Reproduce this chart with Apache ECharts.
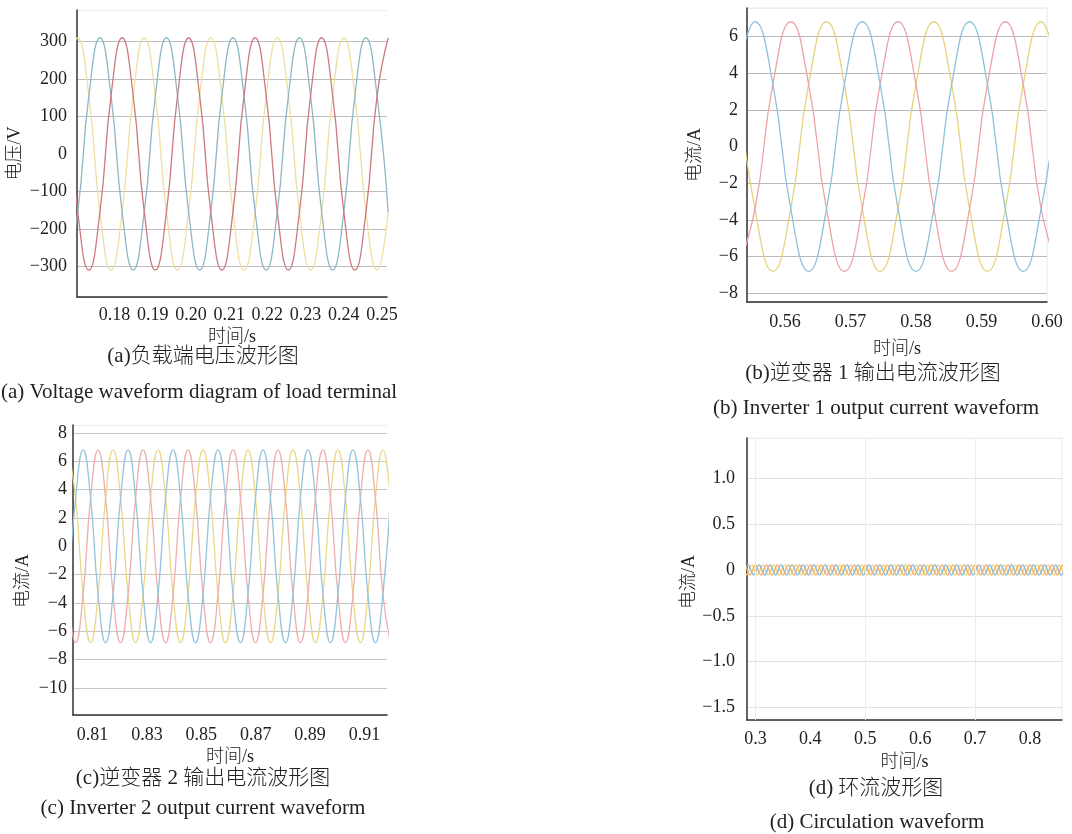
<!DOCTYPE html>
<html>
<head>
<meta charset="utf-8">
<title>waveforms</title>
<script src="https://cdn.jsdelivr.net/npm/echarts@6/dist/echarts.min.js"></script>
<style>
  html, body { margin: 0; padding: 0; background: #fff; }
  #chart { width: 1072px; height: 834px; }
</style>
</head>
<body>
<div id="chart"></div>
<script>
// ---- (a) load terminal voltage, V ----
const aTime = [0.1675, 0.1704, 0.1733, 0.1762, 0.1791, 0.1820, 0.1849, 0.1878, 0.1907, 0.1936,
  0.1965, 0.1994, 0.2023, 0.2052, 0.2081, 0.2110, 0.2139, 0.2168, 0.2197, 0.2226,
  0.2255, 0.2284, 0.2313, 0.2342, 0.2371, 0.2400, 0.2429, 0.2458, 0.2487, 0.2516];
const aRed = [155, -155, -310, -155, 155, 310, 155, -155, -310, -155, 155, 310,
  155, -155, -310, -155, 155, 310, 155, -155, -310, -155, 155, 310,
  155, -155, -310, -155, 155, 310];
const aBlue = [-310, -155, 155, 310, 155, -155, -310, -155, 155, 310, 155, -155,
  -310, -155, 155, 310, 155, -155, -310, -155, 155, 310, 155, -155,
  -310, -155, 155, 310, 155, -155];
const aYellow = [155, 310, 155, -155, -310, -155, 155, 310, 155, -155, -310, -155,
  155, 310, 155, -155, -310, -155, 155, 310, 155, -155, -310, -155,
  155, 310, 155, -155, -310, -155];
const aXTicks = [0.18, 0.19, 0.20, 0.21, 0.22, 0.23, 0.24, 0.25];
const aYTicks = [-300, -200, -100, 0, 100, 200, 300];

// ---- (b) inverter 1 output current, A ----
const bTime = [0.55269, 0.55542, 0.55815, 0.56088, 0.56361, 0.56634, 0.56907, 0.57180, 0.57453, 0.57726,
  0.57999, 0.58272, 0.58545, 0.58818, 0.59091, 0.59364, 0.59637, 0.59910, 0.60183];
const bBlue = [3.4, 6.8, 3.4, -3.4, -6.8, -3.4, 3.4, 6.8, 3.4, -3.4, -6.8, -3.4,
  3.4, 6.8, 3.4, -3.4, -6.8, -3.4, 3.4];
const bRed = [-6.8, -3.4, 3.4, 6.8, 3.4, -3.4, -6.8, -3.4, 3.4, 6.8, 3.4, -3.4,
  -6.8, -3.4, 3.4, 6.8, 3.4, -3.4, -6.8];
const bYellow = [3.4, -3.4, -6.8, -3.4, 3.4, 6.8, 3.4, -3.4, -6.8, -3.4, 3.4, 6.8,
  3.4, -3.4, -6.8, -3.4, 3.4, 6.8, 3.4];
const bXTicks = [0.56, 0.57, 0.58, 0.59, 0.60];
const bYTicks = [-8, -6, -4, -2, 0, 2, 4, 6];

// ---- (c) inverter 2 output current, A ----
const cTime = [0.80100, 0.80376, 0.80651, 0.80927, 0.81203, 0.81479, 0.81754, 0.82030, 0.82306, 0.82581,
  0.82857, 0.83133, 0.83408, 0.83684, 0.83960, 0.84236, 0.84511, 0.84787, 0.85063, 0.85338,
  0.85614, 0.85890, 0.86165, 0.86441, 0.86717, 0.86993, 0.87268, 0.87544, 0.87820, 0.88095,
  0.88371, 0.88647, 0.88922, 0.89198, 0.89474, 0.89750, 0.90025, 0.90301, 0.90577, 0.90852,
  0.91128, 0.91404, 0.91679, 0.91955];
const cBlue = [-3.4, 3.4, 6.8, 3.4, -3.4, -6.8, -3.4, 3.4, 6.8, 3.4, -3.4, -6.8,
  -3.4, 3.4, 6.8, 3.4, -3.4, -6.8, -3.4, 3.4, 6.8, 3.4, -3.4, -6.8,
  -3.4, 3.4, 6.8, 3.4, -3.4, -6.8, -3.4, 3.4, 6.8, 3.4, -3.4, -6.8,
  -3.4, 3.4, 6.8, 3.4, -3.4, -6.8, -3.4, 3.4];
const cRed = [-3.4, -6.8, -3.4, 3.4, 6.8, 3.4, -3.4, -6.8, -3.4, 3.4, 6.8, 3.4,
  -3.4, -6.8, -3.4, 3.4, 6.8, 3.4, -3.4, -6.8, -3.4, 3.4, 6.8, 3.4,
  -3.4, -6.8, -3.4, 3.4, 6.8, 3.4, -3.4, -6.8, -3.4, 3.4, 6.8, 3.4,
  -3.4, -6.8, -3.4, 3.4, 6.8, 3.4, -3.4, -6.8];
const cYellow = [6.8, 3.4, -3.4, -6.8, -3.4, 3.4, 6.8, 3.4, -3.4, -6.8, -3.4, 3.4,
  6.8, 3.4, -3.4, -6.8, -3.4, 3.4, 6.8, 3.4, -3.4, -6.8, -3.4, 3.4,
  6.8, 3.4, -3.4, -6.8, -3.4, 3.4, 6.8, 3.4, -3.4, -6.8, -3.4, 3.4,
  6.8, 3.4, -3.4, -6.8, -3.4, 3.4, 6.8, 3.4];
const cXTicks = [0.81, 0.83, 0.85, 0.87, 0.89, 0.91];
const cYTicks = [-10, -8, -6, -4, -2, 0, 2, 4, 6, 8];

// ---- (d) circulating current, A ----
const dTime = [
  0.2800, 0.2833, 0.2867, 0.2900, 0.2933, 0.2967, 0.3000, 0.3033, 0.3067, 0.3100, 0.3133, 0.3167,
  0.3200, 0.3233, 0.3267, 0.3300, 0.3333, 0.3367, 0.3400, 0.3433, 0.3467, 0.3500, 0.3533, 0.3567,
  0.3600, 0.3633, 0.3667, 0.3700, 0.3733, 0.3767, 0.3800, 0.3833, 0.3867, 0.3900, 0.3933, 0.3967,
  0.4000, 0.4033, 0.4067, 0.4100, 0.4133, 0.4167, 0.4200, 0.4233, 0.4267, 0.4300, 0.4333, 0.4367,
  0.4400, 0.4433, 0.4467, 0.4500, 0.4533, 0.4567, 0.4600, 0.4633, 0.4667, 0.4700, 0.4733, 0.4767,
  0.4800, 0.4833, 0.4867, 0.4900, 0.4933, 0.4967, 0.5000, 0.5033, 0.5067, 0.5100, 0.5133, 0.5167,
  0.5200, 0.5233, 0.5267, 0.5300, 0.5333, 0.5367, 0.5400, 0.5433, 0.5467, 0.5500, 0.5533, 0.5567,
  0.5600, 0.5633, 0.5667, 0.5700, 0.5733, 0.5767, 0.5800, 0.5833, 0.5867, 0.5900, 0.5933, 0.5967,
  0.6000, 0.6033, 0.6067, 0.6100, 0.6133, 0.6167, 0.6200, 0.6233, 0.6267, 0.6300, 0.6333, 0.6367,
  0.6400, 0.6433, 0.6467, 0.6500, 0.6533, 0.6567, 0.6600, 0.6633, 0.6667, 0.6700, 0.6733, 0.6767,
  0.6800, 0.6833, 0.6867, 0.6900, 0.6933, 0.6967, 0.7000, 0.7033, 0.7067, 0.7100, 0.7133, 0.7167,
  0.7200, 0.7233, 0.7267, 0.7300, 0.7333, 0.7367, 0.7400, 0.7433, 0.7467, 0.7500, 0.7533, 0.7567,
  0.7600, 0.7633, 0.7667, 0.7700, 0.7733, 0.7767, 0.7800, 0.7833, 0.7867, 0.7900, 0.7933, 0.7967,
  0.8000, 0.8033, 0.8067, 0.8100, 0.8133, 0.8167, 0.8200, 0.8233, 0.8267, 0.8300, 0.8333, 0.8367,
  0.8400, 0.8433, 0.8467, 0.8500, 0.8533, 0.8567, 0.8600];
const dOrange = [
  0.055, 0.028, -0.028, -0.055, -0.028, 0.028, 0.055, 0.028, -0.028, -0.055, -0.028, 0.028,
  0.055, 0.028, -0.028, -0.055, -0.028, 0.028, 0.055, 0.028, -0.028, -0.055, -0.028, 0.028,
  0.055, 0.028, -0.028, -0.055, -0.028, 0.028, 0.055, 0.028, -0.028, -0.055, -0.028, 0.028,
  0.055, 0.028, -0.028, -0.055, -0.028, 0.028, 0.055, 0.028, -0.028, -0.055, -0.028, 0.028,
  0.055, 0.028, -0.028, -0.055, -0.028, 0.028, 0.055, 0.028, -0.028, -0.055, -0.028, 0.028,
  0.055, 0.028, -0.028, -0.055, -0.028, 0.028, 0.055, 0.028, -0.028, -0.055, -0.028, 0.028,
  0.055, 0.028, -0.028, -0.055, -0.028, 0.028, 0.055, 0.028, -0.028, -0.055, -0.028, 0.028,
  0.055, 0.028, -0.028, -0.055, -0.028, 0.028, 0.055, 0.028, -0.028, -0.055, -0.028, 0.028,
  0.055, 0.028, -0.028, -0.055, -0.028, 0.028, 0.055, 0.028, -0.028, -0.055, -0.028, 0.028,
  0.055, 0.028, -0.028, -0.055, -0.028, 0.028, 0.055, 0.028, -0.028, -0.055, -0.028, 0.028,
  0.055, 0.028, -0.028, -0.055, -0.028, 0.028, 0.055, 0.028, -0.028, -0.055, -0.028, 0.028,
  0.055, 0.028, -0.028, -0.055, -0.028, 0.028, 0.055, 0.028, -0.028, -0.055, -0.028, 0.028,
  0.055, 0.028, -0.028, -0.055, -0.028, 0.028, 0.055, 0.028, -0.028, -0.055, -0.028, 0.028,
  0.055, 0.028, -0.028, -0.055, -0.028, 0.028, 0.055, 0.028, -0.028, -0.055, -0.028, 0.028,
  0.055, 0.028, -0.028, -0.055, -0.028, 0.028, 0.055];
const dBlue = [
  -0.028, 0.028, 0.055, 0.028, -0.028, -0.055, -0.028, 0.028, 0.055, 0.028, -0.028, -0.055,
  -0.028, 0.028, 0.055, 0.028, -0.028, -0.055, -0.028, 0.028, 0.055, 0.028, -0.028, -0.055,
  -0.028, 0.028, 0.055, 0.028, -0.028, -0.055, -0.028, 0.028, 0.055, 0.028, -0.028, -0.055,
  -0.028, 0.028, 0.055, 0.028, -0.028, -0.055, -0.028, 0.028, 0.055, 0.028, -0.028, -0.055,
  -0.028, 0.028, 0.055, 0.028, -0.028, -0.055, -0.028, 0.028, 0.055, 0.028, -0.028, -0.055,
  -0.028, 0.028, 0.055, 0.028, -0.028, -0.055, -0.028, 0.028, 0.055, 0.028, -0.028, -0.055,
  -0.028, 0.028, 0.055, 0.028, -0.028, -0.055, -0.028, 0.028, 0.055, 0.028, -0.028, -0.055,
  -0.028, 0.028, 0.055, 0.028, -0.028, -0.055, -0.028, 0.028, 0.055, 0.028, -0.028, -0.055,
  -0.028, 0.028, 0.055, 0.028, -0.028, -0.055, -0.028, 0.028, 0.055, 0.028, -0.028, -0.055,
  -0.028, 0.028, 0.055, 0.028, -0.028, -0.055, -0.028, 0.028, 0.055, 0.028, -0.028, -0.055,
  -0.028, 0.028, 0.055, 0.028, -0.028, -0.055, -0.028, 0.028, 0.055, 0.028, -0.028, -0.055,
  -0.028, 0.028, 0.055, 0.028, -0.028, -0.055, -0.028, 0.028, 0.055, 0.028, -0.028, -0.055,
  -0.028, 0.028, 0.055, 0.028, -0.028, -0.055, -0.028, 0.028, 0.055, 0.028, -0.028, -0.055,
  -0.028, 0.028, 0.055, 0.028, -0.028, -0.055, -0.028, 0.028, 0.055, 0.028, -0.028, -0.055,
  -0.028, 0.028, 0.055, 0.028, -0.028, -0.055, -0.028];
const dYellow = [
  -0.028, -0.055, -0.028, 0.028, 0.055, 0.028, -0.028, -0.055, -0.028, 0.028, 0.055, 0.028,
  -0.028, -0.055, -0.028, 0.028, 0.055, 0.028, -0.028, -0.055, -0.028, 0.028, 0.055, 0.028,
  -0.028, -0.055, -0.028, 0.028, 0.055, 0.028, -0.028, -0.055, -0.028, 0.028, 0.055, 0.028,
  -0.028, -0.055, -0.028, 0.028, 0.055, 0.028, -0.028, -0.055, -0.028, 0.028, 0.055, 0.028,
  -0.028, -0.055, -0.028, 0.028, 0.055, 0.028, -0.028, -0.055, -0.028, 0.028, 0.055, 0.028,
  -0.028, -0.055, -0.028, 0.028, 0.055, 0.028, -0.028, -0.055, -0.028, 0.028, 0.055, 0.028,
  -0.028, -0.055, -0.028, 0.028, 0.055, 0.028, -0.028, -0.055, -0.028, 0.028, 0.055, 0.028,
  -0.028, -0.055, -0.028, 0.028, 0.055, 0.028, -0.028, -0.055, -0.028, 0.028, 0.055, 0.028,
  -0.028, -0.055, -0.028, 0.028, 0.055, 0.028, -0.028, -0.055, -0.028, 0.028, 0.055, 0.028,
  -0.028, -0.055, -0.028, 0.028, 0.055, 0.028, -0.028, -0.055, -0.028, 0.028, 0.055, 0.028,
  -0.028, -0.055, -0.028, 0.028, 0.055, 0.028, -0.028, -0.055, -0.028, 0.028, 0.055, 0.028,
  -0.028, -0.055, -0.028, 0.028, 0.055, 0.028, -0.028, -0.055, -0.028, 0.028, 0.055, 0.028,
  -0.028, -0.055, -0.028, 0.028, 0.055, 0.028, -0.028, -0.055, -0.028, 0.028, 0.055, 0.028,
  -0.028, -0.055, -0.028, 0.028, 0.055, 0.028, -0.028, -0.055, -0.028, 0.028, 0.055, 0.028,
  -0.028, -0.055, -0.028, 0.028, 0.055, 0.028, -0.028];
const dXTicks = [0.3, 0.4, 0.5, 0.6, 0.7, 0.8];
const dYTicks = [-1.5, -1.0, -0.5, 0, 0.5, 1.0];
const dVLines = [0.3, 0.5, 0.7];

// ---- chart ----
const FONT = '"Liberation Serif", "Noto Sans CJK SC", serif';
const TXT = '#222';

function pairs(t, v) {
  return t.map((x, i) => [x, v[i]]);
}

// number label, with a real minus sign
function fmt(dec) {
  return (v) => (Math.abs(v) < 1e-9 ? '0' : v.toFixed(dec)).replace('-', '\u2212');
}

function xAxisOf(idx, min, max, ticks, dec, margin, gap) {
  return {
    type: 'value', gridIndex: idx, min: min, max: max,
    name: '时间/s', nameLocation: 'middle', nameGap: gap,
    nameTextStyle: { fontFamily: FONT, fontSize: 18, fontWeight: 300, color: TXT },
    axisLine: { show: true, onZero: false, lineStyle: { color: '#333', width: 1.5 } },
    axisTick: { show: false },
    splitLine: { show: false },
    axisLabel: { customValues: ticks, formatter: fmt(dec), margin: margin,
      fontFamily: FONT, fontSize: 18, color: TXT }
  };
}

// namePad shifts the rotated name along the axis (right padding moves it down)
function yAxisOf(idx, min, max, ticks, dec, split, lineColors, name, gap, margin, namePad) {
  return {
    type: 'value', gridIndex: idx, min: min, max: max, splitNumber: split,
    name: name, nameLocation: 'middle', nameGap: gap,
    nameTextStyle: { fontFamily: FONT, fontSize: 18, fontWeight: 300, color: TXT,
      padding: [0, namePad || 0, 0, 0] },
    axisLine: { show: true, onZero: false, lineStyle: { color: '#333', width: 1.5 } },
    axisTick: { show: false },
    splitLine: { show: true, lineStyle: { color: lineColors, width: 1 } },
    axisLabel: { customValues: ticks, formatter: fmt(dec), margin: margin,
      fontFamily: FONT, fontSize: 18, color: TXT }
  };
}

function wave(idx, t, v, color) {
  return {
    type: 'line', xAxisIndex: idx, yAxisIndex: idx,
    data: pairs(t, v), smooth: true, showSymbol: false, silent: true,
    lineStyle: { color: color, width: 1.3 }, itemStyle: { color: color }
  };
}

const T = 'rgba(0,0,0,0)';
const gA = '#bdbdbd', gB = '#b9b9b9', gC = '#c6c6c6', gD = '#e0e0e0', gTop = '#ececec';

const captions = [
  ['(a)负载端电压波形图', 203, 356],
  ['(a) Voltage waveform diagram of load terminal', 199, 392],
  ['(b)逆变器 1 输出电流波形图', 873, 373],
  ['(b) Inverter 1 output current waveform', 876, 408],
  ['(c)逆变器 2 输出电流波形图', 203, 778],
  ['(c) Inverter 2 output current waveform', 203, 808],
  ['(d) 环流波形图', 876, 788],
  ['(d) Circulation waveform', 877, 822]
];

const dOrangeSeries = wave(3, dTime, dOrange, '#f2ad66');
dOrangeSeries.markLine = {
  silent: true, symbol: 'none', label: { show: false },
  lineStyle: { color: '#eeeeee', type: 'solid', width: 1 },
  data: dVLines.map((x) => ({ xAxis: x }))
};

const option = {
  animation: false,
  backgroundColor: '#fff',
  grid: [
    { left: 77, top: 10, width: 310, height: 287 },
    { left: 747, top: 8, width: 300, height: 294, show: true, borderColor: '#e8e8e8', borderWidth: 1 },
    { left: 73, top: 425, width: 314, height: 290 },
    { left: 747, top: 438, width: 315, height: 282, show: true, borderColor: '#ececec', borderWidth: 1 }
  ],
  xAxis: [
    xAxisOf(0, 0.1702, 0.2513, aXTicks, 2, 9, 31),
    xAxisOf(1, 0.5542, 0.6000, bXTicks, 2, 11, 38),
    xAxisOf(2, 0.8028, 0.9183, cXTicks, 2, 11, 33),
    xAxisOf(3, 0.2846, 0.8584, dXTicks, 1, 10, 33)
  ],
  yAxis: [
    yAxisOf(0, -382, 384, aYTicks, 0, 8, [gA, gA, gA, gA, T, gA, gA, gA, gTop], '电压/V', 53, 10, 0),
    yAxisOf(1, -8.47, 7.55, bYTicks, 0, 8, [gB, gB, gB, gB, gB, T, gB, gB, gB, gTop], '电流/A', 43, 9, 0),
    yAxisOf(2, -11.9, 8.56, cYTicks, 0, 10, [gC, gC, gC, gC, gC, gC, T, gC, gC, gC, gC, gTop], '电流/A', 41, 6, 22),
    yAxisOf(3, -1.638, 1.441, dYTicks, 1, 6, [gD, gD, gD, gD, T, gD, gD, gTop], '电流/A', 48, 12, 6)
  ],
  series: [
    wave(0, aTime, aYellow, '#eee0a0'),
    wave(0, aTime, aBlue, '#8fb7c6'),
    wave(0, aTime, aRed, '#cc7a80'),
    wave(1, bTime, bYellow, '#e6d37e'),
    wave(1, bTime, bRed, '#efa3a6'),
    wave(1, bTime, bBlue, '#8ec2dc'),
    wave(2, cTime, cYellow, '#ead889'),
    wave(2, cTime, cRed, '#eeaeb0'),
    wave(2, cTime, cBlue, '#95c4dc'),
    wave(3, dTime, dYellow, '#f1d37a'),
    wave(3, dTime, dBlue, '#7fb9e2'),
    dOrangeSeries
  ],
  graphic: {
    elements: captions.map((c) => ({
      type: 'text', x: c[1], y: c[2], silent: true,
      style: { text: c[0], fontFamily: FONT, fontSize: 21, fontWeight: 300, fill: TXT,
        align: 'center', verticalAlign: 'middle' }
    }))
  }
};

const chart = echarts.init(document.getElementById('chart'), null, { renderer: 'canvas' });
chart.setOption(option);
</script>
</body>
</html>
